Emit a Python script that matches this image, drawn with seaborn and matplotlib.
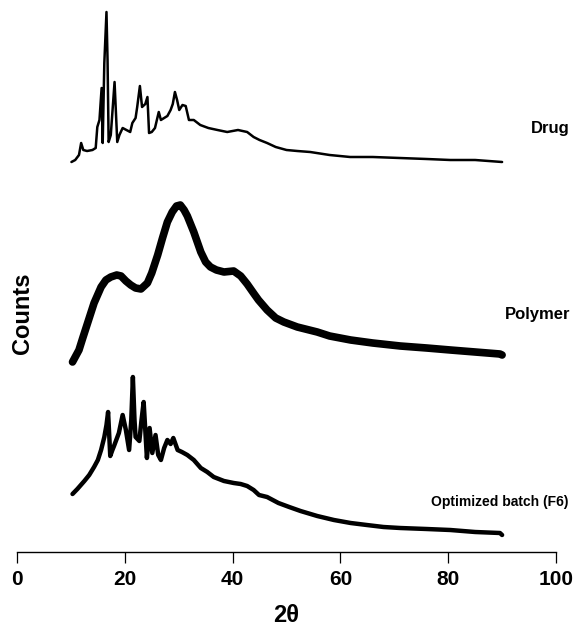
import pandas as pd
import matplotlib
matplotlib.use("Agg")
import matplotlib.pyplot as plt
import seaborn as sns

#-------------------------------------------------------------------------------------
# XRD patterns (arbitrary count units, already stacked)
#-------------------------------------------------------------------------------------
drug_2theta = [10.1, 10.8, 11.5, 11.9, 12.3, 13.0, 14.0, 14.6, 14.9, 15.3, 15.7, 15.9,
               16.2, 16.6, 16.8, 17.0, 17.4, 18.1, 18.6, 19.0, 19.6, 20.3, 21.0, 21.4,
               22.0, 22.3, 22.8, 23.2, 23.8, 24.2, 24.5, 25.0, 25.6, 26.3, 26.7, 27.3,
               27.9, 28.5, 28.9, 29.3, 29.7, 30.1, 30.7, 31.3, 31.9, 32.8, 34.0, 35.5,
               37.2, 39.0, 41.0, 42.7, 43.9, 45.0, 46.4, 48.0, 50.0, 52.0, 54.4, 58.0,
               61.8, 66.0, 71.0, 76.0, 80.4, 85.0, 90.0]
drug_counts = [390, 392, 397, 409, 402, 401, 402, 404, 425, 432, 464, 409,
               489, 540, 492, 410, 417, 470, 410, 417, 424, 422, 420, 429,
               434, 445, 466, 445, 448, 455, 419, 420, 424, 440, 432, 434,
               436, 442, 448, 460, 452, 442, 447, 446, 432, 432, 427, 424,
               422, 420, 422, 420, 415, 412, 409, 405, 402, 401, 400, 397,
               395, 395, 394, 393, 392, 392, 390]

polymer_2theta = [10.3, 10.8, 11.5, 12.2, 13.1, 14.3, 15.6, 16.5, 17.4, 18.5, 19.3, 20.2,
                  21.1, 22.0, 23.0, 24.2, 25.0, 26.1, 27.0, 27.9, 28.8, 29.6, 30.3, 31.0,
                  31.6, 32.8, 34.1, 35.0, 35.9, 37.0, 38.4, 40.2, 41.5, 42.7, 44.0, 44.8,
                  46.4, 48.0, 49.5, 52.0, 55.7, 58.0, 61.9, 66.0, 71.1, 76.0, 80.4, 85.0,
                  89.6, 90.0]
polymer_counts = [190, 195, 202, 214, 229, 249, 265, 272, 275, 277, 276, 271,
                  267, 264, 263, 269, 279, 297, 314, 330, 340, 346, 347, 342,
                  336, 320, 300, 290, 285, 282, 280, 281, 276, 268, 258, 252,
                  242, 234, 230, 225, 220, 216, 212, 209, 206, 204, 202, 200,
                  198, 197]

f6_2theta = [10.3, 11.2, 12.5, 13.4, 14.3, 15.0, 15.6, 16.2, 16.6, 16.9, 17.3, 17.7,
             18.0, 18.9, 19.6, 20.2, 20.8, 21.2, 21.5, 21.8, 22.0, 22.7, 23.1, 23.5,
             23.8, 24.1, 24.6, 25.1, 25.7, 26.2, 26.7, 27.3, 27.9, 28.5, 29.0, 29.8,
             30.6, 31.6, 32.8, 34.1, 35.3, 36.5, 38.4, 40.2, 41.5, 42.7, 43.9, 44.9,
             46.4, 48.5, 50.5, 52.6, 55.7, 58.8, 61.9, 64.9, 68.0, 71.1, 76.0, 80.4,
             85.0, 89.6, 90.0]
f6_counts = [58, 63, 71, 77, 85, 92, 102, 115, 127, 140, 96, 102,
             106, 119, 137, 122, 102, 132, 175, 132, 115, 111, 132, 150,
             122, 94, 124, 99, 117, 97, 92, 104, 112, 108, 114, 102,
             100, 97, 92, 84, 80, 75, 71, 69, 68, 66, 62, 57,
             55, 49, 45, 41, 36, 32, 29, 27, 25, 24, 23, 22,
             20, 19, 17]

sample_names = ["Drug", "Polymer", "Optimized batch (F6)"]
x_ticks = [0, 20, 40, 60, 80, 100]

frames = []
for name, tt, cc in zip(sample_names,
                        [drug_2theta, polymer_2theta, f6_2theta],
                        [drug_counts, polymer_counts, f6_counts]):
    frames.append(pd.DataFrame({"two_theta": tt, "counts": cc, "sample": name}))
df_xrd = pd.concat(frames, ignore_index=True)

#-------------------------------------------------------------------------------------
# Figure
#-------------------------------------------------------------------------------------
sns.set_style("white")
plt.rcParams['font.family'] = ['Liberation Sans', 'DejaVu Sans']
plt.rcParams['font.weight'] = 'bold'
plt.rcParams['text.color'] = 'black'
plt.rcParams['xtick.color'] = 'black'

fig = plt.figure(figsize=(5.73, 6.26), dpi=100)
ax = fig.add_axes([17 / 573, 1 - 552 / 626, (556 - 17) / 573, 552 / 626])

# noise band of each trace is imitated with the line width
widths = {"Drug": 1.8, "Polymer": 5.5, "Optimized batch (F6)": 3.2}
for name in sample_names:
    sns.lineplot(data=df_xrd[df_xrd["sample"] == name], x="two_theta", y="counts",
                 estimator=None, sort=False, color="black", linewidth=widths[name], ax=ax)

ax.set_xlim(0, 100)
ax.set_ylim(0, 552)
ax.set_xticks(x_ticks)
ax.set_xticklabels([str(t) for t in x_ticks], fontsize=15, fontweight='bold')
ax.set_yticks([])
ax.set_xlabel("")
ax.set_ylabel("")

for side in ["top", "right", "left"]:
    ax.spines[side].set_visible(False)
ax.spines["bottom"].set_linewidth(1.0)
ax.spines["bottom"].set_color("black")
ax.tick_params(axis='x', bottom=True, direction='out', length=8, width=0.9, pad=5,
               colors='black', labelcolor='black')

# sample labels
ax.text(102.6, 424, "Drug", ha='right', va='center', fontsize=12, fontweight='bold', clip_on=False)
ax.text(102.6, 238, "Polymer", ha='right', va='center', fontsize=12, fontweight='bold', clip_on=False)
ax.text(102.3, 50, "Optimized batch (F6)", ha='right', va='center', fontsize=10, fontweight='bold', clip_on=False)

# axis titles
fig.text(286.5 / 573, 1 - 615 / 626, "2θ", ha='center', va='center', fontsize=17, fontweight='bold')
fig.text(23 / 573, 1 - 313 / 626, "Counts", ha='center', va='center', rotation=90,
         fontsize=17, fontweight='bold')

plt.savefig("out.png", dpi=100)
